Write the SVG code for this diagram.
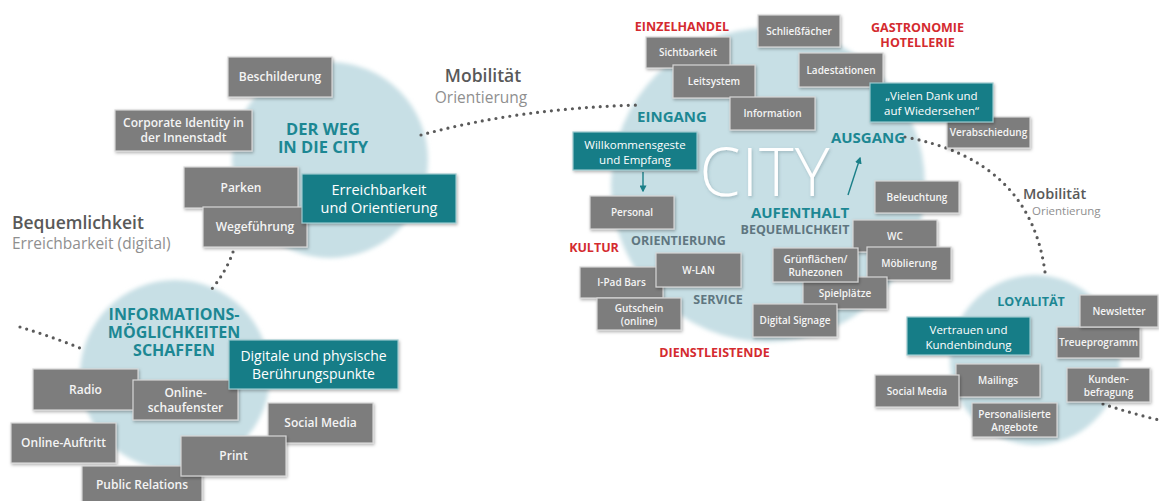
<svg xmlns="http://www.w3.org/2000/svg" width="1159" height="501" viewBox="0 0 1159 501">
<defs>
<filter id="sh" x="-20%" y="-20%" width="140%" height="150%">
<feDropShadow dx="1" dy="1.5" stdDeviation="1.5" flood-color="#000" flood-opacity="0.3"/>
</filter>
<filter id="soft" x="-10%" y="-10%" width="120%" height="120%">
<feGaussianBlur stdDeviation="2"/>
</filter>
<filter id="tsh" x="-10%" y="-10%" width="120%" height="130%">
<feDropShadow dx="1" dy="1.5" stdDeviation="1.5" flood-color="#4d6f78" flood-opacity="0.35"/>
</filter>
<marker id="ah" viewBox="0 0 10 10" refX="8" refY="5" markerWidth="5" markerHeight="5" orient="auto">
<path d="M0,0 L10,5 L0,10 z" fill="#1a7f88"/>
</marker>
</defs>
<style>
text{font-family:"Open Sans","Noto Sans","Liberation Sans",sans-serif;}
.circ{fill:#c7dfe5;}
.g rect{fill:#7d7d7d;stroke:#d6d6d6;stroke-width:1.2;filter:url(#sh);}
.t rect{fill:#147d87;stroke:#9cc9ce;stroke-width:1.2;filter:url(#sh);}
.g text{fill:#f4f4f4;font-weight:600;text-anchor:middle;}
.t text{fill:#ffffff;font-weight:500;text-anchor:middle;}
.s12 text{font-size:12px;}
.s10 text{font-size:10px;}
.h{fill:#1c8793;font-weight:700;text-anchor:middle;}
.r{fill:#d42b2f;font-weight:700;text-anchor:middle;font-size:12.5px;}
.sub{fill:#5f7680;font-weight:700;text-anchor:middle;font-size:12.5px;}
.dots{fill:none;stroke:#5a5a5a;stroke-width:3.2;stroke-linecap:round;stroke-dasharray:0 7;}
.arr{fill:none;stroke:#1a7f88;stroke-width:1.4;marker-end:url(#ah);}
</style>
<rect width="1159" height="501" fill="#ffffff"/>

<!-- background circles -->
<g id="circles">
<circle class="circ" cx="330" cy="160" r="98" filter="url(#soft)"/>
<circle class="circ" cx="175" cy="375" r="95" filter="url(#soft)"/>
<circle class="circ" cx="768" cy="185" r="157" filter="url(#soft)"/>
<circle class="circ" cx="1035" cy="360" r="85" filter="url(#soft)"/>
</g>

<!-- connectors -->
<g id="connectors">
<path class="dots" d="M20,327 Q50,336 80,348"/>
<path class="dots" d="M233,252 Q226,272 211,290"/>
<path class="dots" d="M421,135 Q520,108 640,105"/>
<path class="dots" d="M905,137 Q1030,160 1045,272"/>
<path class="dots" d="M1103,404 Q1130,413 1159,420"/>
<path class="arr" d="M643,172 L643,191"/>
<path class="arr" d="M848,195 L860,158"/>
</g>

<!-- free labels -->
<g id="labels">
<text x="483" y="82" font-size="17.5" font-weight="600" fill="#595959" text-anchor="middle">Mobilität<tspan x="481" y="103" font-size="15.5" font-weight="400" fill="#8f8f8f">Orientierung</tspan></text>
<text x="12" y="229" font-size="17.5" font-weight="600" fill="#595959">Bequemlichkeit<tspan x="12" y="249" font-size="15.5" font-weight="400" fill="#8f8f8f">Erreichbarkeit (digital)</tspan></text>
<text x="1023" y="199" font-size="14.5" font-weight="600" fill="#595959">Mobilität<tspan x="1032" y="215" font-size="11.5" font-weight="400" fill="#8f8f8f">Orientierung</tspan></text>
</g>

<!-- Der Weg in die City -->
<g id="weg-title">
<text class="h" x="323" y="135" font-size="16.5">DER WEG<tspan x="323" y="153">IN DIE CITY</tspan></text>
</g>
<g id="beschilderung" class="g s12"><rect x="228" y="57" width="104" height="40"/><text x="280" y="81.3">Beschilderung</text></g>
<g id="corporate" class="g s12"><rect x="115" y="110" width="137" height="41"/><text x="183.5" y="127">Corporate Identity in<tspan x="183.5" y="142">der Innenstadt</tspan></text></g>
<g id="parken" class="g s12"><rect x="184" y="167" width="114" height="41"/><text x="241" y="192.3">Parken</text></g>
<g id="wegefuehrung" class="g s12"><rect x="203" y="207" width="104" height="40"/><text x="255" y="231.3">Wegeführung</text></g>
<g id="erreichbarkeit" class="t"><rect x="302" y="174" width="154" height="49"/><text x="379" y="195" font-size="14.5">Erreichbarkeit<tspan x="379" y="213">und Orientierung</tspan></text></g>

<!-- Informationsmöglichkeiten -->
<g id="info-title">
<text class="h" x="174" y="320" font-size="16">INFORMATIONS-<tspan x="174" y="338">MÖGLICHKEITEN</tspan><tspan x="174" y="356">SCHAFFEN</tspan></text>
</g>
<g id="radio" class="g s12"><rect x="33" y="369" width="105" height="41"/><text x="85.5" y="394.3">Radio</text></g>
<g id="schaufenster" class="g s12"><rect x="133" y="380" width="105" height="40"/><text x="185.5" y="397">Online-<tspan x="185.5" y="412">schaufenster</tspan></text></g>
<g id="digitale" class="t"><rect x="229" y="340" width="169" height="49"/><text x="313.5" y="361" font-size="14">Digitale und physische<tspan x="313.5" y="379">Berührungspunkte</tspan></text></g>
<g id="online-auftritt" class="g s12"><rect x="11" y="423" width="105" height="40"/><text x="63.5" y="447.3">Online-Auftritt</text></g>
<g id="social-media-1" class="g s12"><rect x="268" y="403" width="105" height="40"/><text x="320.5" y="427.3">Social Media</text></g>
<g id="public-relations" class="g s12"><rect x="82" y="466" width="120" height="38"/><text x="142" y="489.3">Public Relations</text></g>
<g id="print" class="g s12"><rect x="181" y="436" width="105" height="40"/><text x="233.5" y="460.3">Print</text></g>

<!-- City -->
<g id="city-title">
<text x="765" y="196" font-size="66" font-weight="300" fill="#ffffff" text-anchor="middle" letter-spacing="1" filter="url(#tsh)">CITY</text>
<text class="h" x="672" y="122" font-size="15">EINGANG</text>
<text class="h" x="868" y="143" font-size="15">AUSGANG</text>
<text class="h" x="800" y="218" font-size="15">AUFENTHALT<tspan x="795" y="234" font-size="12.5" fill="#5f7680">BEQUEMLICHKEIT</tspan></text>
<text class="sub" x="678.5" y="245">ORIENTIERUNG</text>
<text class="sub" x="718" y="304">SERVICE</text>
<text class="r" x="682" y="31">EINZELHANDEL</text>
<text class="r" x="917.5" y="32">GASTRONOMIE<tspan x="917.5" y="47">HOTELLERIE</tspan></text>
<text class="r" x="594" y="252">KULTUR</text>
<text class="r" x="714.5" y="357">DIENSTLEISTENDE</text>
</g>
<g id="sichtbarkeit" class="g s10"><rect x="646" y="37" width="84" height="31"/><text x="688" y="56">Sichtbarkeit</text></g>
<g id="leitsystem" class="g s10"><rect x="673" y="65" width="82" height="33"/><text x="714" y="85">Leitsystem</text></g>
<g id="schliessfaecher" class="g s10"><rect x="758" y="15" width="82" height="32"/><text x="799" y="34.5">Schließfächer</text></g>
<g id="ladestationen" class="g s10"><rect x="799" y="53" width="84" height="34"/><text x="841" y="73.5">Ladestationen</text></g>
<g id="information" class="g s10"><rect x="730" y="97" width="85" height="33"/><text x="772.5" y="117">Information</text></g>
<g id="verabschiedung" class="g s10"><rect x="947" y="117" width="83" height="31"/><text x="988.5" y="136">Verabschiedung</text></g>
<g id="vielen-dank" class="t"><rect x="870" y="83" width="123" height="39"/><text x="931.5" y="100" font-size="11.5">„Vielen Dank und<tspan x="931.5" y="115">auf Wiedersehen“</tspan></text></g>
<g id="willkommen" class="t"><rect x="573" y="132" width="124" height="38"/><text x="635" y="149" font-size="11.5">Willkommensgeste<tspan x="635" y="164">und Empfang</tspan></text></g>
<g id="personal" class="g s10"><rect x="590" y="196" width="84" height="33"/><text x="632" y="216">Personal</text></g>
<g id="ipad" class="g s10"><rect x="580" y="267" width="83" height="31"/><text x="621.5" y="286">I-Pad Bars</text></g>
<g id="wlan" class="g s10"><rect x="656" y="253" width="85" height="34"/><text x="698.5" y="273.5">W-LAN</text></g>
<g id="gutschein" class="g s10"><rect x="597" y="298" width="84" height="32"/><text x="639" y="312">Gutschein<tspan x="639" y="325">(online)</tspan></text></g>
<g id="beleuchtung" class="g s10"><rect x="875" y="181" width="84" height="32"/><text x="917" y="200.5">Beleuchtung</text></g>
<g id="wc" class="g s10"><rect x="853" y="220" width="84" height="32"/><text x="895" y="239.5">WC</text></g>
<g id="moeblierung" class="g s10"><rect x="867" y="247" width="84" height="33"/><text x="909" y="267">Möblierung</text></g>
<g id="spielplaetze" class="g s10"><rect x="803" y="277" width="84" height="32"/><text x="845" y="296.5">Spielplätze</text></g>
<g id="gruenflaechen" class="g s10"><rect x="773" y="248" width="85" height="34"/><text x="815.5" y="263">Grünflächen/<tspan x="815.5" y="276">Ruhezonen</tspan></text></g>
<g id="digital-signage" class="g s10"><rect x="753" y="304" width="84" height="33"/><text x="795" y="324">Digital Signage</text></g>

<!-- Loyalität -->
<g id="loyal-title"><text class="h" x="1031" y="306" font-size="12.5">LOYALITÄT</text></g>
<g id="treueprogramm" class="g s10"><rect x="1057" y="327" width="83" height="31"/><text x="1098.5" y="346">Treueprogramm</text></g>
<g id="newsletter" class="g s10"><rect x="1080" y="295" width="78" height="32"/><text x="1119" y="314.5">Newsletter</text></g>
<g id="vertrauen" class="t"><rect x="907" y="317" width="123" height="38"/><text x="968.5" y="333.5" font-size="11.5">Vertrauen und<tspan x="968.5" y="348.5">Kundenbindung</tspan></text></g>
<g id="kundenbefragung" class="g s10"><rect x="1067" y="368" width="83" height="34"/><text x="1108.5" y="383">Kunden-<tspan x="1108.5" y="396">befragung</tspan></text></g>
<g id="mailings" class="g s10"><rect x="956" y="364" width="84" height="33"/><text x="998" y="384">Mailings</text></g>
<g id="social-media-2" class="g s10"><rect x="875" y="375" width="84" height="32"/><text x="917" y="394.5">Social Media</text></g>
<g id="personalisiert" class="g s10"><rect x="972" y="403" width="85" height="34"/><text x="1014.5" y="417.5">Personalisierte<tspan x="1014.5" y="430.5">Angebote</tspan></text></g>
</svg>
